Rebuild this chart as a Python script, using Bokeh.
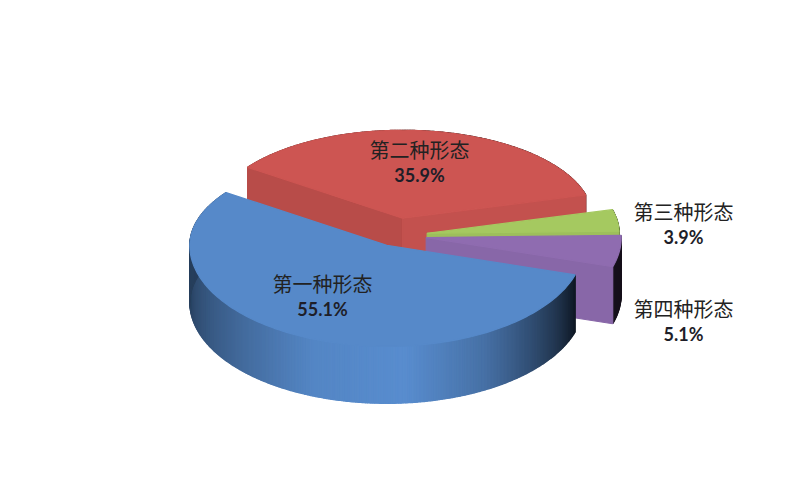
import numpy as np
from bokeh.plotting import figure
from bokeh.models import ColumnDataSource
from bokeh.core.properties import value
from bokeh.embed import file_html
from bokeh.resources import INLINE

names = ["第一种形态", "第二种形态", "第三种形态", "第四种形态"]
shares = [55.1, 35.9, 3.9, 5.1]
pct_labels = ["55.1%", "35.9%", "3.9%", "5.1%"]
colors = [(86, 137, 201), (205, 85, 82), (165, 201, 96), (143, 108, 176)]
explode = [22, 35, 31, 30]
radius = [197, 190, 192, 195]
draw_order = [1, 2, 3, 0]
label_x = [322, 419, 683, 683]
label_y = [283, 149, 211, 308]

START = -17.0
CX, CY = 396.0, 235.0
RY_BACK, RY_FRONT = 88 / 190, 101 / 197
DEPTH = 57

p = figure(width=784, height=486, x_range=(0, 784), y_range=(486, 0),
           output_backend="svg", toolbar_location=None, min_border=0,
           outline_line_color=None, background_fill_color="white")
p.axis.visible = False
p.grid.visible = False


def hexc(c, s=1.0):
    return "#%02x%02x%02x" % tuple(int(max(0, min(255, v * s))) for v in c)


def shade(t):
    t = ((t + 270) % 360) - 270
    return float(np.interp(t, [-180, -145, -112, -85, -60, -30, -17, 30],
                           [0.46, 0.72, 0.98, 1.03, 0.82, 0.38, 0.17, 0.12]))


def pt(ax, ay, r, t):
    rad = np.radians(t)
    s = np.sin(rad)
    return ax + r * np.cos(rad), ay - r * s * (RY_BACK if s > 0 else RY_FRONT)


xs, ys, fills = [], [], []


def add(px, py, c):
    xs.append(list(px))
    ys.append(list(py))
    fills.append(c)


spans = [v / sum(shares) * 360 for v in shares]
a0 = START
ranges = []
for s in spans:
    ranges.append((a0, a0 - s))
    a0 -= s

for i in draw_order:
    t0, t1 = ranges[i]
    mid = np.radians((t0 + t1) / 2)
    ax = CX + explode[i] * np.cos(mid)
    ay = CY - explode[i] * np.sin(mid) * 0.5
    r = radius[i]
    # curved outer wall, shaded by facing direction
    grid = np.linspace(t0, t1, max(4, int(abs(t1 - t0) * 2) + 1))
    for a, b in zip(grid[:-1], grid[1:]):
        x0, y0 = pt(ax, ay, r, a)
        x1, y1 = pt(ax, ay, r, b)
        add([x0, x1, x1, x0], [y0, y1, y1 + DEPTH, y0 + DEPTH],
            hexc(colors[i], shade((a + b) / 2)))
    # cut faces that look towards the viewer
    for t, normal, f in ((t0, t0 + 90, 0.9), (t1, t1 - 90, 0.955)):
        if np.sin(np.radians(normal)) < 0:
            ex, ey = pt(ax, ay, r, t)
            add([ax, ex, ex, ax], [ay, ey, ey + DEPTH, ay + DEPTH], hexc(colors[i], f))
    # top surface
    tt = np.linspace(t0, t1, 160)
    ex, ey = zip(*[pt(ax, ay, r, t) for t in tt])
    add([ax, *ex], [ay, *ey], hexc(colors[i]))

src = ColumnDataSource(dict(xs=xs, ys=ys, c=fills))
p.patches("xs", "ys", source=src, fill_color="c", line_color="c", line_width=1.2)

p.text(x=label_x, y=label_y, text=names, text_font=value("Noto Sans CJK SC"),
       text_font_size="20px", text_color="#222222", text_align="center",
       text_baseline="middle")
p.text(x=label_x, y=[v + 25 for v in label_y], text=pct_labels, text_font=value("Lato"),
       text_font_size="18px", text_font_style="bold", text_color="#1e1e28",
       text_align="center", text_baseline="middle")

open("out.html", "w").write(file_html(p, INLINE))
